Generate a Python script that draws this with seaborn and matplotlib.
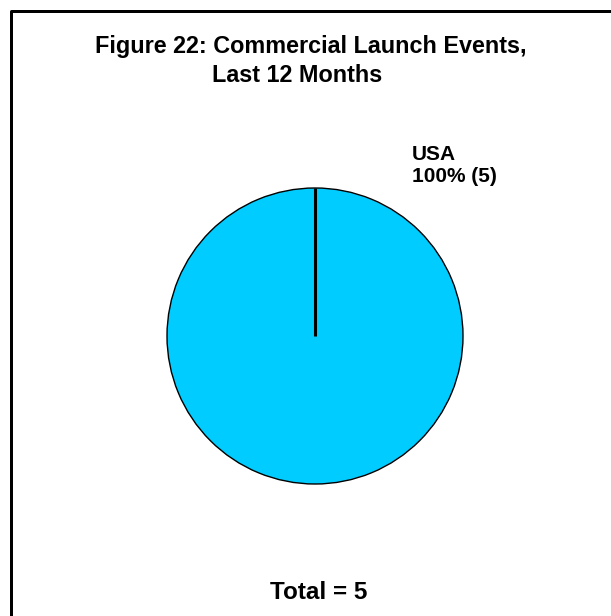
import numpy as np
import seaborn as sns
import matplotlib.pyplot as plt
from matplotlib.lines import Line2D

# data
countries = ['USA']
launches = [5]
colors = ['#00CCFF']
title_lines = ['Figure 22: Commercial Launch Events,', 'Last 12 Months']

sns.set_theme(style="white")
plt.rcParams['font.family'] = ['Liberation Sans', 'DejaVu Sans']
plt.rcParams['text.color'] = 'black'

W, H = 611, 616
fig = plt.figure(figsize=(W / 100, H / 100), dpi=100)
fig.patch.set_facecolor('white')

# pie axes placed in pixel terms
cx, cy, r = 315, 336, 148
ax = fig.add_axes([(cx - r) / W, (H - cy - r) / H, 2 * r / W, 2 * r / H])
wedges, _ = ax.pie(launches, colors=colors, startangle=90, counterclock=False,
                   wedgeprops=dict(edgecolor='black', linewidth=1.0))
ax.set_xlim(-1, 1)
ax.set_ylim(-1, 1)
ax.set_aspect('equal')
ax.axis('off')

# thicker radial edge where the slices start
ang = np.deg2rad(wedges[0].theta1)
ax.plot([0, np.cos(ang)], [0, np.sin(ang)], color='black', lw=2.2,
        solid_capstyle='butt')

# title
fig.text(311 / W, 1 - 53 / H, title_lines[0], ha='center', va='baseline',
         fontsize=16.8, fontweight='bold')
fig.text(297.5 / W, 1 - 82 / H, title_lines[1], ha='center', va='baseline',
         fontsize=16.8, fontweight='bold')

# slice label
total = sum(launches)
pct = launches[0] / total * 100
fig.text(412 / W, 1 - 160 / H, countries[0], ha='left', va='baseline',
         fontsize=15, fontweight='bold')
fig.text(412 / W, 1 - 181.5 / H, f"{pct:.0f}% ({launches[0]})", ha='left',
         va='baseline', fontsize=15, fontweight='bold')

fig.text(318.5 / W, 1 - 599 / H, f"Total = {total}", ha='center',
         va='baseline', fontsize=17.5, fontweight='bold')

# frame (only left and top are inside the picture)
fig.add_artist(Line2D([10.5 / W, 10.5 / W, 1.0], [0.0, 1 - 10.7 / H, 1 - 10.7 / H],
                      transform=fig.transFigure, color='black', lw=2.16))

fig.savefig('out.png', dpi=100)
